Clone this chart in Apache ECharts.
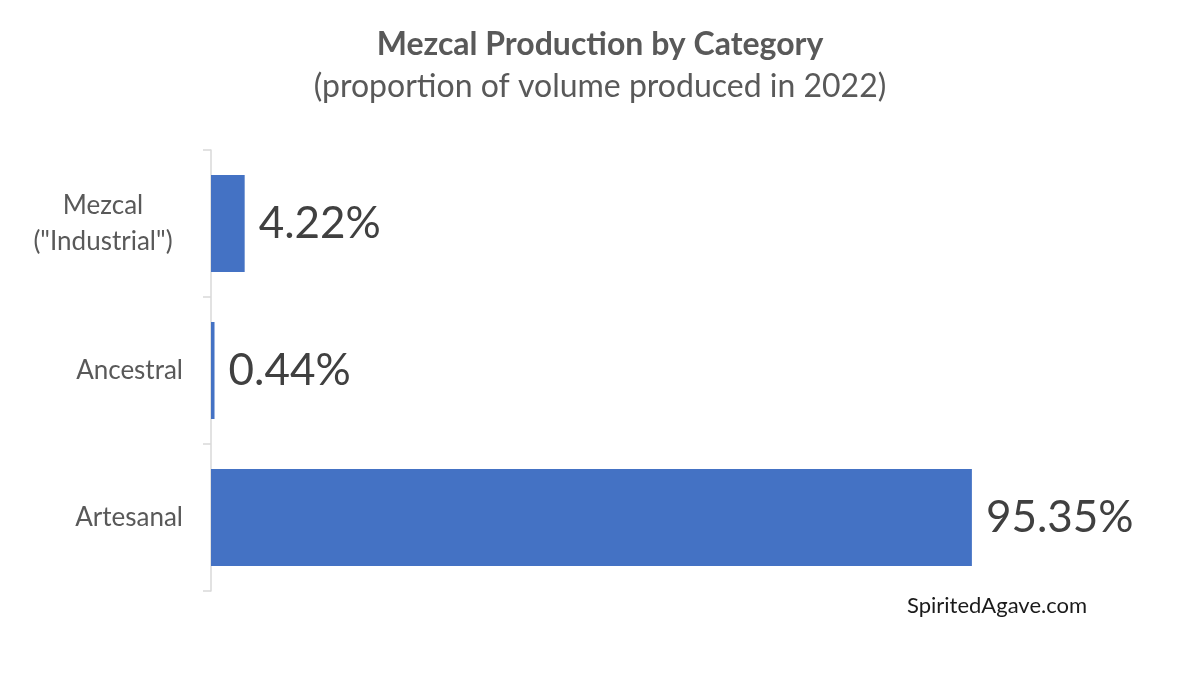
<!DOCTYPE html>
<html>
<head>
<meta charset="utf-8">
<script src="https://cdn.jsdelivr.net/npm/echarts@6/dist/echarts.min.js"></script>
<style>html,body{margin:0;padding:0;background:#fff}#c{width:1200px;height:689px}</style>
</head>
<body>
<div id="c"></div>
<script>
// bottom-to-top order
const categories = ['Artesanal', 'Ancestral', 'Mezcal\n("Industrial")'];
const shares = [95.35, 0.44, 4.22];
const titleText = 'Mezcal Production by Category';
const subtitleText = '(proportion of volume produced in 2022)';
const sourceText = 'SpiritedAgave.com';

const FONT = 'Lato, "Noto Sans", sans-serif';
const chart = echarts.init(document.getElementById('c'), null, {renderer: 'canvas'});
chart.setOption({
  animation: false,
  backgroundColor: '#ffffff',
  title: [
    {
      text: titleText,
      subtext: subtitleText,
      left: 'center',
      top: 24,
      itemGap: 10,
      textStyle: {fontFamily: FONT, fontSize: 32, fontWeight: 'bold', color: '#595959'},
      subtextStyle: {fontFamily: FONT, fontSize: 32, fontWeight: 'normal', color: '#595959'}
    },
    {
      text: sourceText,
      left: 902,
      top: 590,
      textStyle: {fontFamily: FONT, fontSize: 22, fontWeight: 'normal', color: '#1a1a1a'}
    }
  ],
  grid: {left: 211, right: 191, top: 150, bottom: 98, containLabel: false, outerBoundsMode: 'none'},
  xAxis: {
    type: 'value', min: 0, max: 100, show: false
  },
  yAxis: {
    type: 'category',
    data: categories,
    axisLine: {show: true, lineStyle: {color: '#d9d9d9', width: 1.5}},
    axisTick: {show: true, length: 8, lineStyle: {color: '#d9d9d9', width: 1.5}},
    axisLabel: {
      fontFamily: FONT, fontSize: 26, color: '#595959',
      align: 'right', margin: 28,
      formatter: v => v.indexOf('\n') >= 0
        ? v.split('\n').map(s => '{c|' + s + '}').join('\n')
        : v,
      rich: {
        c: {fontFamily: FONT, fontSize: 26, color: '#595959', width: 160, align: 'center', lineHeight: 36}
      }
    },
    splitLine: {show: false}
  },
  series: [{
    type: 'bar',
    data: shares,
    barCategoryGap: '34%',
    itemStyle: {color: '#4472c4'},
    label: {
      show: true, position: 'right', distance: 14,
      formatter: p => p.value.toFixed(2) + '%',
      fontFamily: FONT, fontSize: 44, color: '#404040'
    }
  }]
});
</script>
</body>
</html>
